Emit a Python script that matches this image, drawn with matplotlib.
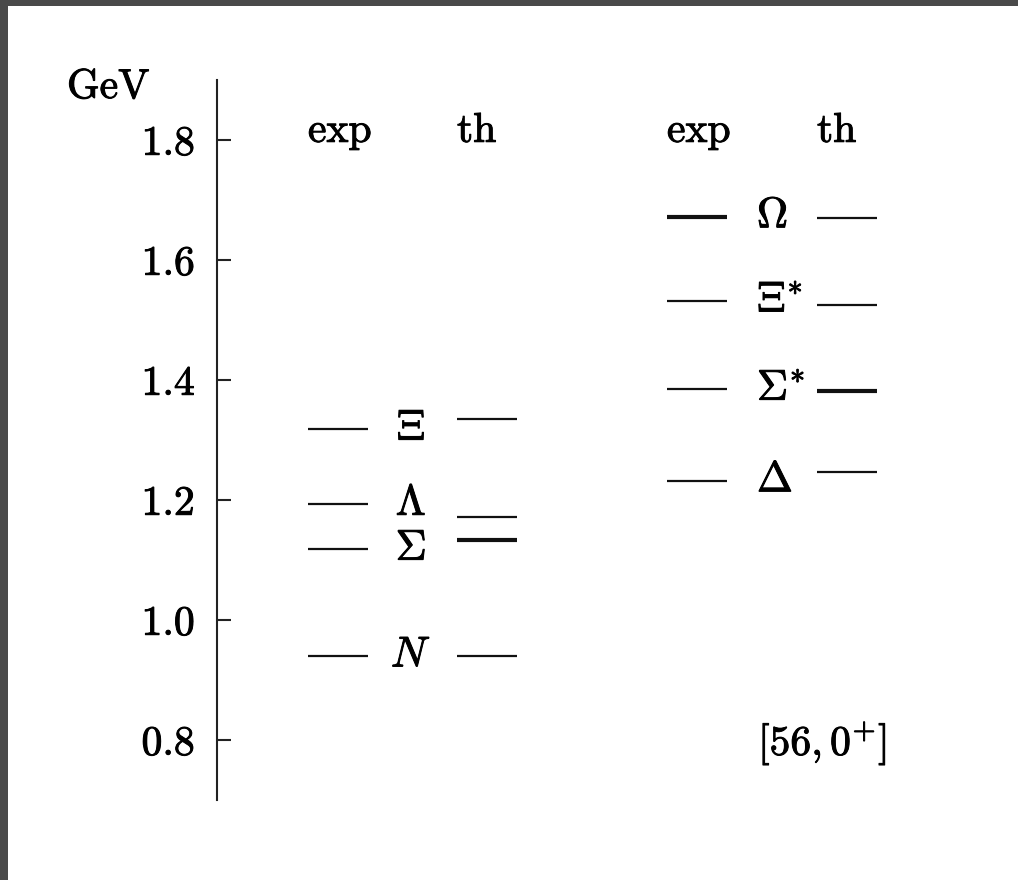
import matplotlib
matplotlib.use('Agg')
import matplotlib.pyplot as plt
import matplotlib.patheffects as pe
from matplotlib.patches import Rectangle

plt.rcParams['font.family'] = 'cmr10'
plt.rcParams['mathtext.fontset'] = 'cm'
plt.rcParams['axes.formatter.use_mathtext'] = True

# baryon masses in GeV, [56, 0+] multiplet
octet_labels = [r'$\Xi$', r'$\Lambda$', r'$\Sigma$', r'$N$']
octet_exp = [1.318, 1.193, 1.118, 0.940]
octet_th = [1.335, 1.172, 1.133, 0.940]
octet_exp_bold = [False, False, False, False]
octet_th_bold = [False, False, True, False]

decuplet_labels = [r'$\Omega$', r'$\Xi^{*}$', r'$\Sigma^{*}$', r'$\Delta$']
decuplet_exp = [1.672, 1.532, 1.385, 1.232]
decuplet_th = [1.670, 1.525, 1.382, 1.247]
decuplet_exp_bold = [True, False, False, False]
decuplet_th_bold = [False, False, True, False]

yticks = [0.8, 1.0, 1.2, 1.4, 1.6, 1.8]
ytick_labels = ['0.8', '1.0', '1.2', '1.4', '1.6', '1.8']

W, H = 1018, 880
fs = 30
thin, thick = 1.6, 3.0
heavy = [pe.withStroke(linewidth=0.7, foreground='black')]

fig = plt.figure(figsize=(W / 100, H / 100), dpi=100, facecolor='#4a4a4a')
fig.patches.append(Rectangle((8 / W, 0), 1, 1 - 6 / H, transform=fig.transFigure,
                             facecolor='white', edgecolor='none', zorder=-1))

# x axis is in pixel units so the columns can be laid out directly
ax = fig.add_axes([217 / W, 80 / H, 1 - 217 / W, 720 / H])
ax.set_facecolor('none')
ax.set_xlim(217, W)
ax.set_ylim(0.7, 1.9)
for s in ['top', 'right', 'bottom']:
    ax.spines[s].set_visible(False)
ax.spines['left'].set_linewidth(1.5)
ax.spines['left'].set_color('#222222')
ax.set_xticks([])
ax.set_yticks(yticks)
ax.set_yticklabels(ytick_labels)
ax.tick_params(axis='y', direction='in', length=10, width=1.5, pad=16,
               labelsize=fs, color='#222222')
for t in ax.get_yticklabels():
    t.set_path_effects(heavy)


def draw_group(x_exp, x_th, x_lab, labels, exp, th, exp_bold, th_bold, ha):
    for y, b in zip(exp, exp_bold):
        ax.hlines(y, x_exp, x_exp + 60, color='#111111', lw=thick if b else thin)
    for y, b in zip(th, th_bold):
        ax.hlines(y, x_th, x_th + 60, color='#111111', lw=thick if b else thin)
    for y, lab in zip(exp, labels):
        ax.text(x_lab, y, lab, fontsize=fs + 1, ha=ha, va='center',
                path_effects=heavy)
    ax.text(x_exp, 1.797, 'exp', fontsize=fs, ha='left', va='baseline',
            path_effects=heavy)
    ax.text(x_th, 1.797, 'th', fontsize=fs, ha='left', va='baseline',
            path_effects=heavy)


draw_group(308, 457, 411, octet_labels, octet_exp, octet_th,
           octet_exp_bold, octet_th_bold, 'center')
draw_group(667, 817, 757, decuplet_labels, decuplet_exp, decuplet_th,
           decuplet_exp_bold, decuplet_th_bold, 'left')

ax.text(758, 0.775, r'$[56,0^{+}]$', fontsize=fs, ha='left', va='baseline',
        path_effects=heavy)
fig.text(67 / W, 1 - 98 / H, 'GeV', fontsize=fs, ha='left', va='baseline',
         path_effects=heavy)

fig.savefig('out.png', dpi=100, facecolor=fig.get_facecolor())
